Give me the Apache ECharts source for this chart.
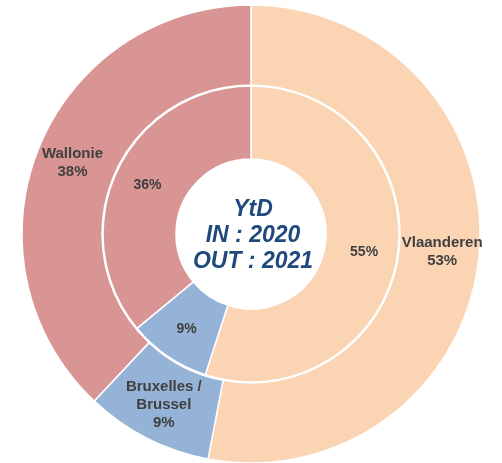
<!DOCTYPE html>
<html>
<head>
<meta charset="utf-8">
<script src="https://cdn.jsdelivr.net/npm/echarts@6/dist/echarts.min.js"></script>
<style>
  html, body { margin: 0; padding: 0; background: #fff; }
  #chart { width: 502px; height: 463px; }
</style>
</head>
<body>
<div id="chart"></div>
<script>
// regions, clockwise from 12 o'clock
const regions = ['Vlaanderen', 'Bruxelles /\nBrussel', 'Wallonie']
const outValues = [53, 9, 38] // outer ring: OUT 2021
const inValues = [55, 9, 36] // inner ring: IN 2020
const regionColors = ['#FBD4B4', '#95B3D7', '#D99594']
const centerLines = ['YtD', 'IN : 2020', 'OUT : 2021']

const myChart = echarts.init(document.getElementById('chart'))

const toData = (values) => values.map((v, i) => ({
  name: regions[i],
  value: v,
  itemStyle: { color: regionColors[i] }
}))

myChart.setOption({
  animation: false,
  textStyle: { fontFamily: '"Liberation Sans", Arial, sans-serif' },
  graphic: [
    {
      type: 'text',
      x: 253,
      y: 236,
      style: {
        text: centerLines.join('\n'),
        textAlign: 'center',
        textVerticalAlign: 'middle',
        fill: '#1F497D',
        font: 'italic bold 23px "Liberation Sans", Arial, sans-serif',
        lineHeight: 26
      }
    }
  ],
  series: [
    {
      name: 'outer',
      type: 'pie',
      center: [251, 234],
      radius: [149, 229],
      startAngle: 90,
      clockwise: true,
      silent: true,
      itemStyle: { borderColor: '#fff', borderWidth: 1.5 },
      label: {
        position: 'inside',
        formatter: (p) => p.name + '\n' + p.value + '%',
        color: '#3F3F3F',
        fontWeight: 'bold',
        fontSize: 15,
        lineHeight: 18
      },
      labelLine: { show: false },
      data: toData(outValues)
    },
    {
      name: 'inner',
      type: 'pie',
      center: [251, 234],
      radius: [75, 148],
      startAngle: 90,
      clockwise: true,
      silent: true,
      itemStyle: { borderColor: '#fff', borderWidth: 1.5 },
      label: {
        position: 'inside',
        formatter: (p) => p.value + '%',
        color: '#3F3F3F',
        fontWeight: 'bold',
        fontSize: 14
      },
      labelLine: { show: false },
      data: toData(inValues)
    }
  ]
})
</script>
</body>
</html>
